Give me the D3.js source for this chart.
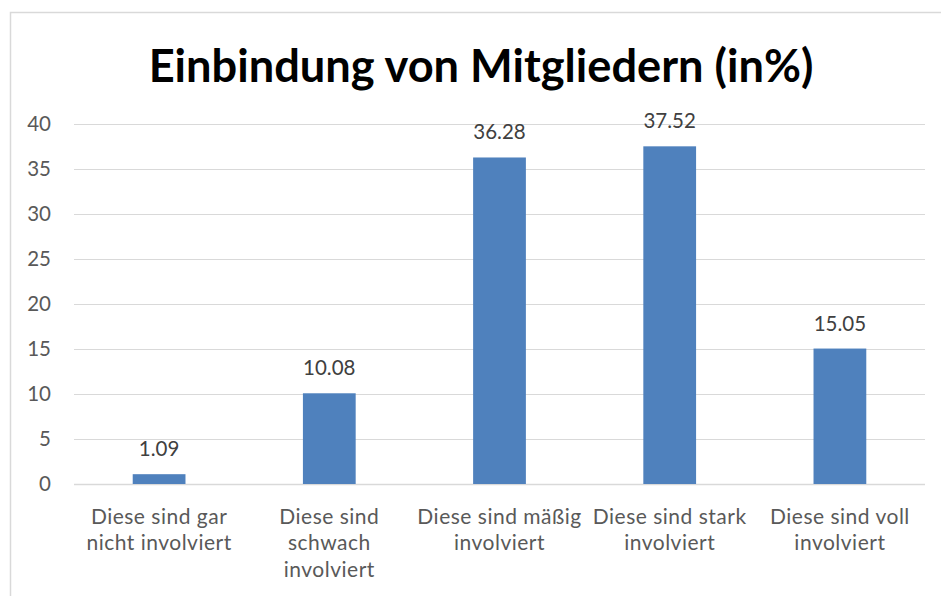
<!DOCTYPE html>
<html><head><meta charset="utf-8">
<script src="https://cdn.jsdelivr.net/npm/d3@7"></script>
<style>body{margin:0;background:#fff}svg{display:block}</style>
</head><body>
<script>
const title = "Einbindung von Mitgliedern (in%)";
const categories = [
  ["Diese sind gar", "nicht involviert"],
  ["Diese sind", "schwach", "involviert"],
  ["Diese sind mäßig", "involviert"],
  ["Diese sind stark", "involviert"],
  ["Diese sind voll", "involviert"]
];
const values = [1.09, 10.08, 36.28, 37.52, 15.05];
const yTicks = [0, 5, 10, 15, 20, 25, 30, 35, 40];

(function () {
const W = 941, H = 596;
const font = "Lato, 'Open Sans', sans-serif";
const fs = 20.5;
const svg = d3.select("body").append("svg").attr("width", W).attr("height", H);
svg.append("rect").attr("width", W).attr("height", H).attr("fill", "#fff");
svg.append("rect").attr("x", 10.5).attr("y", 12.5).attr("width", W).attr("height", H)
  .attr("fill", "none").attr("stroke", "#d9d9d9").attr("stroke-width", 1.5);

const pl = 74, pr = 925, pt = 124, pb = 484;
const x = d3.scaleBand().domain(d3.range(values.length)).range([pl, pr]).padding(0);
const y = d3.scaleLinear().domain([0, 40]).range([pb, pt]);

// title
const t = svg.append("text").attr("x", 481).attr("y", 82).attr("text-anchor", "middle")
  .attr("font-family", font).attr("font-weight", "bold").attr("font-size", 40).attr("fill", "#000").text(title);
const tw = t.node().getComputedTextLength();
t.attr("font-size", 40 * 665 / tw);

// grid
svg.append("g").selectAll("line").data(yTicks).join("line")
  .attr("x1", pl).attr("x2", pr)
  .attr("y1", d => Math.round(y(d)) + 0.5).attr("y2", d => Math.round(y(d)) + 0.5)
  .attr("stroke", "#d9d9d9").attr("stroke-width", d => d === 0 ? 1.5 : 1.2);

// y tick labels
svg.append("g").selectAll("text").data(yTicks).join("text")
  .attr("x", 51).attr("y", d => y(d) + 7).attr("text-anchor", "end")
  .attr("font-family", font).attr("font-size", fs).attr("fill", "#595959").text(d => d);

// bars
const bw = x.bandwidth() * 0.31;
svg.append("g").selectAll("rect").data(values).join("rect")
  .attr("x", (d, i) => x(i) + x.bandwidth() / 2 - bw / 2)
  .attr("y", d => y(d)).attr("width", bw).attr("height", d => pb - y(d))
  .attr("fill", "#4f81bd");

// value labels
svg.append("g").selectAll("text").data(values).join("text")
  .attr("x", (d, i) => x(i) + x.bandwidth() / 2).attr("y", d => y(d) - 18)
  .attr("text-anchor", "middle").attr("font-family", font).attr("font-size", fs)
  .attr("fill", "#404040").text(d => d.toFixed(2));

// category labels
const cg = svg.append("g").selectAll("text").data(categories).join("text")
  .attr("text-anchor", "middle").attr("font-family", font).attr("font-size", 21)
  .attr("letter-spacing", 0.5).attr("fill", "#595959");
cg.each(function(lines, i) {
  d3.select(this).selectAll("tspan").data(lines).join("tspan")
    .attr("x", x(i) + x.bandwidth() / 2).attr("y", (l, j) => 523.5 + j * 26.5).text(l => l);
});
})();
</script>
</body></html>
